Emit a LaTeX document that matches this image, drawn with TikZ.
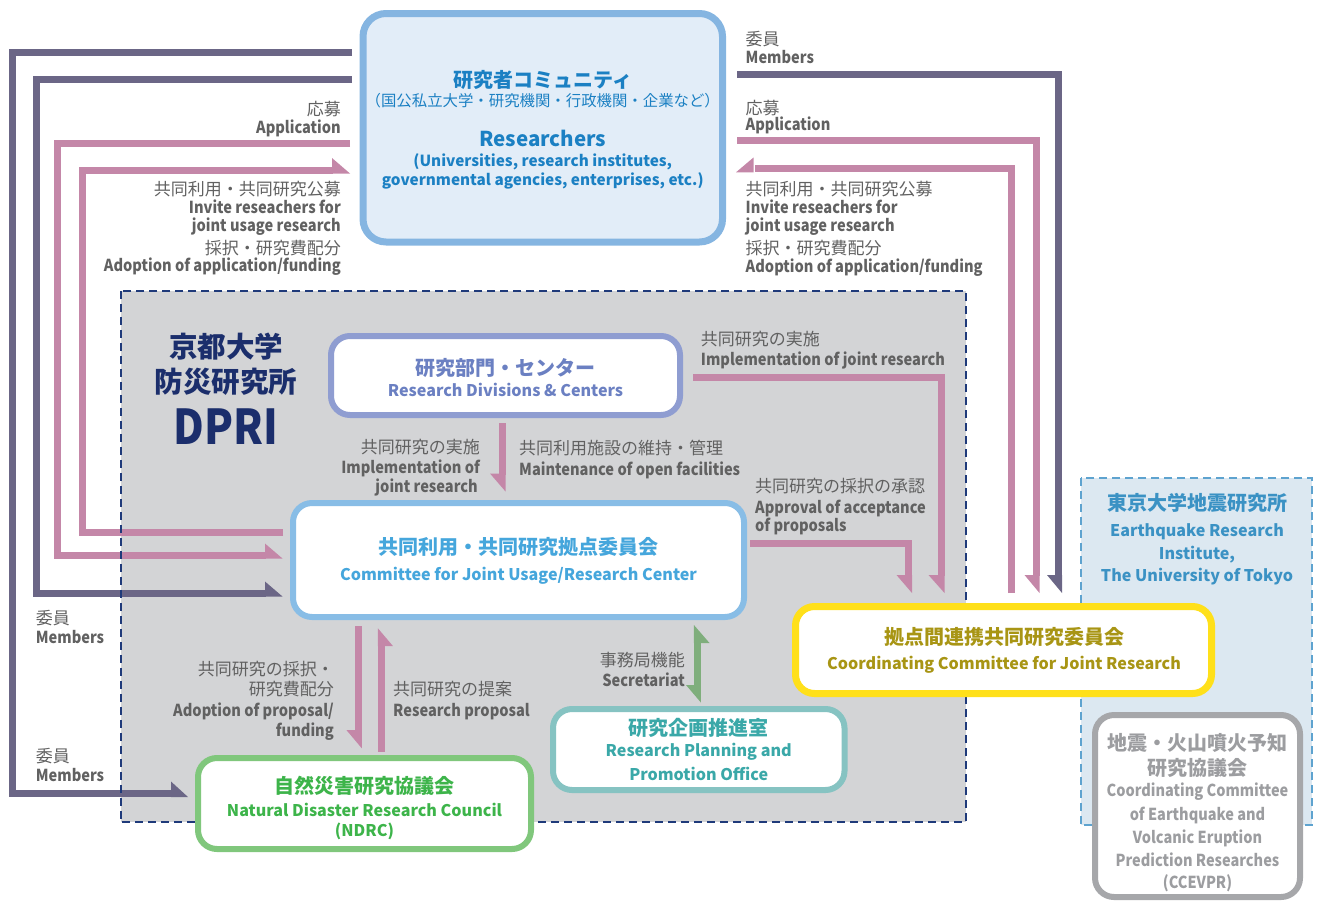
\documentclass[tikz,border=0pt]{standalone}
\usepackage{fontspec}
\setmainfont{Noto Sans CJK JP}
\newfontfamily\labfont{Noto Sans CJK JP}[FakeStretch=0.885]
\newfontfamily\condfont{Noto Sans CJK JP}[FakeStretch=0.88]
\definecolor{navy}{HTML}{1F3A7A}
\definecolor{dpri}{HTML}{1B2E6C}
\definecolor{purp}{HTML}{6B6686}
\definecolor{pinkc}{HTML}{C487A8}
\definecolor{greyreg}{HTML}{D3D4D6}
\definecolor{resb}{HTML}{85B5E1}
\definecolor{resf}{HTML}{E2EDF8}
\definecolor{rest}{HTML}{1B80C3}
\definecolor{divb}{HTML}{8F9DD1}
\definecolor{divt}{HTML}{6B80C2}
\definecolor{comb}{HTML}{88BDE6}
\definecolor{comt}{HTML}{45A6DC}
\definecolor{ndrb}{HTML}{80C77C}
\definecolor{ndrt}{HTML}{3DB44A}
\definecolor{rppb}{HTML}{86C3C2}
\definecolor{rppt}{HTML}{3AA8A8}
\definecolor{ccjb}{HTML}{FFE01A}
\definecolor{ccjt}{HTML}{A89514}
\definecolor{erif}{HTML}{DCE8F1}
\definecolor{erib}{HTML}{5EA3CF}
\definecolor{erit}{HTML}{3B92C4}
\definecolor{cceb}{HTML}{A6A7AA}
\definecolor{ccet}{HTML}{9C9DA0}
\definecolor{labt}{HTML}{616161}
\definecolor{secg}{HTML}{7FAE7C}
\begin{document}
\begin{tikzpicture}[x=1pt,y=-1pt,
  region/.style={rectangle, inner sep=0, draw=none},
  box/.style={rectangle, draw, fill=white, rounded corners=19pt, inner sep=0, line width=6pt},
  conn/.style={line width=7pt, line cap=butt, line join=miter},
  t/.style={inner sep=0, anchor=base},
  tl/.style={inner sep=0, anchor=base west},
  tr/.style={inner sep=0, anchor=base east},
  labE/.style={text=labt, font=\fontsize{16.5}{20}\selectfont\labfont\bfseries},
  labJ/.style={text=labt, font=\fontsize{17}{20}\selectfont},
  bJ/.style={font=\fontsize{20}{24}\selectfont\bfseries},
  bE/.style={font=\fontsize{16.1}{20}\selectfont\bfseries},
  cE/.style={font=\fontsize{16.5}{20}\selectfont\condfont\bfseries}]
\useasboundingbox (0,0) rectangle (1321,902);

% regions
\node[region, fill=greyreg, minimum width=845, minimum height=531] (dpriarea) at (543.5,556.5) {};
\node[region, fill=erif, minimum width=231, minimum height=347] (eriarea) at (1196.5,651.5) {};

% connector coordinates
\coordinate (p1a) at (352,52.5);  \coordinate (p1b) at (12.5,52.5);
\coordinate (p1c) at (12.5,793.5); \coordinate (p1d) at (172,793.5);
\coordinate (p2a) at (352,79.5);  \coordinate (p2b) at (36,79.5);
\coordinate (p2c) at (36,593);    \coordinate (p2d) at (266,593);
\coordinate (p3a) at (737,74);    \coordinate (p3b) at (1058.5,74);
\coordinate (p3c) at (1058.5,576);
\coordinate (k1a) at (350,143.5); \coordinate (k1b) at (57.5,143.5);
\coordinate (k1c) at (57.5,555);  \coordinate (k1d) at (266,555);
\coordinate (k2a) at (283,532);   \coordinate (k2b) at (82,532);
\coordinate (k2c) at (82,170);    \coordinate (k2d) at (333,170);
\coordinate (k3a) at (737,140.7); \coordinate (k3b) at (1036,140.7);
\coordinate (k3c) at (1036,576);
\coordinate (k4a) at (1011.7,593); \coordinate (k4b) at (1011.7,168.7);
\coordinate (k4c) at (754.5,168.7);
\coordinate (k5a) at (693,377.5); \coordinate (k5b) at (941,377.5);
\coordinate (k5c) at (941,576);
\coordinate (k6a) at (750,543.5); \coordinate (k6b) at (908.5,543.5);
\coordinate (k6c) at (908.5,576);
\coordinate (k7a) at (502,423);   \coordinate (k7b) at (502,474.5);
\coordinate (k8a) at (358.2,626); \coordinate (k8b) at (358.2,731);
\coordinate (k9a) at (381.4,751.7); \coordinate (k9b) at (381.4,645);
\coordinate (s1a) at (697.4,642); \coordinate (s1b) at (697.4,686);

% purple connectors
\draw[conn, purp] (p1a) -- (p1b) -- (p1c) -- (p1d);
\fill[purp] (171,781.5) -- (171,797) -- (188,797) -- cycle;
\draw[conn, purp] (p2a) -- (p2b) -- (p2c) -- (p2d);
\fill[purp] (265,581.5) -- (265,596.5) -- (282.5,596.5) -- cycle;
\draw[conn, purp] (p3a) -- (p3b) -- (p3c);
\fill[purp] (1047,575) -- (1062,575) -- (1062,593) -- cycle;

% pink connectors
\draw[conn, pinkc] (k1a) -- (k1b) -- (k1c) -- (k1d);
\fill[pinkc] (265,543.5) -- (265,558.5) -- (282.5,558.5) -- cycle;
\draw[conn, pinkc] (k2a) -- (k2b) -- (k2c) -- (k2d);
\fill[pinkc] (332,158) -- (332,173.5) -- (350,173.5) -- cycle;
\draw[conn, pinkc] (k3a) -- (k3b) -- (k3c);
\fill[pinkc] (1024.5,575) -- (1039.5,575) -- (1039.5,593) -- cycle;
\draw[conn, pinkc] (k4a) -- (k4b) -- (k4c);
\fill[pinkc] (753.5,157.5) -- (753.5,172.3) -- (736,172.3) -- cycle;
\draw[conn, pinkc] (k5a) -- (k5b) -- (k5c);
\fill[pinkc] (928.5,575) -- (944.5,575) -- (944.5,593) -- cycle;
\draw[conn, pinkc] (k6a) -- (k6b) -- (k6c);
\fill[pinkc] (896.5,575) -- (912,575) -- (912,593) -- cycle;
\draw[conn, pinkc] (k7a) -- (k7b);
\fill[pinkc] (490,473.5) -- (505.7,473.5) -- (505.7,491.7) -- cycle;
\draw[conn, pinkc] (k8a) -- (k8b);
\fill[pinkc] (346.4,730) -- (361.8,730) -- (361.8,748.3) -- cycle;
\draw[conn, pinkc] (k9a) -- (k9b);
\fill[pinkc] (377.9,646) -- (392.9,646) -- (377.9,628.3) -- cycle;

% secretariat (green, both ends)
\draw[conn, secg] (s1a) -- (s1b);
\fill[secg] (693.9,643) -- (709.5,643) -- (693.9,625) -- cycle;
\fill[secg] (686,685) -- (700.9,685) -- (700.9,702.5) -- cycle;

% dashed borders
\draw[navy, line width=2pt, dash pattern=on 8pt off 5pt] (dpriarea.north west) rectangle (dpriarea.south east);
\draw[erib, line width=1.6pt, dash pattern=on 8pt off 5pt] (eriarea.north west) rectangle (eriarea.south east);

% boxes
\node[box, draw=resb, fill=resf, line width=7pt, rounded corners=23pt, minimum width=359.5, minimum height=228.5] (res) at (542.75,127.75) {};
\node[box, draw=divb, minimum width=349, minimum height=79] (div) at (505.5,375.5) {};
\node[box, draw=comb, minimum width=451, minimum height=114] (com) at (518.5,560) {};
\node[box, draw=ndrb, minimum width=333, minimum height=91] (ndrc) at (364.5,803.5) {};
\node[box, draw=rppb, minimum width=291.5, minimum height=81] (rpp) at (698.75,749.5) {};
\node[box, draw=ccjb, line width=7pt, minimum width=416, minimum height=87] (ccj) at (1003.5,650) {};
\node[box, draw=cceb, minimum width=205, minimum height=182] (cce) at (1197.5,806) {};

% researchers text
\node[t, bJ, text=rest] (rest1) at (542.75,87) {研究者コミュニティ};
\node[t, text=rest, font=\fontsize{15.4}{18}\selectfont] (rest2) at (542.75,106) {（国公私立大学・研究機関・行政機関・企業など）};
\node[t, text=rest, font=\fontsize{20.5}{24}\selectfont\bfseries] (rest3) at (542.75,146) {Researchers};
\node[t, text=rest, font=\fontsize{15.3}{18}\selectfont\bfseries] (rest4) at (542.75,166.5) {(Universities, research institutes,};
\node[t, text=rest, font=\fontsize{15.3}{18}\selectfont\bfseries] (rest5) at (542.75,185.7) {governmental agencies, enterprises, etc.)};

% DPRI title
\node[t, text=dpri, font=\fontsize{28.5}{32}\selectfont\bfseries] (dp1) at (226,357) {京都大学};
\node[t, text=dpri, font=\fontsize{28.5}{32}\selectfont\bfseries] (dp2) at (226,392) {防災研究所};
\node[t, text=dpri, font=\fontsize{48}{52}\selectfont\condfont\bfseries] (dp3) at (226,444) {DPRI};

% box texts
\node[t, bJ, text=divt] (divt1) at (505.5,375) {研究部門・センター};
\node[t, bE, text=divt] (divt2) at (505.5,396) {Research Divisions \& Centers};
\node[t, bJ, text=comt] (comt1) at (518.5,554) {共同利用・共同研究拠点委員会};
\node[t, bE, text=comt] (comt2) at (518.5,580) {Committee for Joint Usage/Research Center};
\node[t, bJ, text=ndrt] (ndt1) at (364.5,793) {自然災害研究協議会};
\node[t, bE, text=ndrt] (ndt2) at (364.5,816) {Natural Disaster Research Council};
\node[t, bE, text=ndrt] (ndt3) at (364.5,836.5) {(NDRC)};
\node[t, bJ, text=rppt] (rpt1) at (698.7,735) {研究企画推進室};
\node[t, bE, text=rppt] (rpt2) at (698.7,756.5) {Research Planning and};
\node[t, bE, text=rppt] (rpt3) at (698.7,780) {Promotion Office};
\node[t, bJ, text=ccjt] (cjt1) at (1004,644) {拠点間連携共同研究委員会};
\node[t, bE, text=ccjt] (cjt2) at (1004,669) {Coordinating Committee for Joint Research};
\node[t, bJ, text=erit] (ert1) at (1197,510) {東京大学地震研究所};
\node[t, bE, text=erit] (ert2) at (1197,536.5) {Earthquake Research};
\node[t, bE, text=erit] (ert3) at (1197,559) {Institute,};
\node[t, bE, text=erit] (ert4) at (1197,581.5) {The University of Tokyo};
\node[t, bJ, text=ccet] (cct1) at (1197.5,750) {地震・火山噴火予知};
\node[t, bJ, text=ccet] (cct2) at (1197.5,775) {研究協議会};
\node[t, cE, text=ccet] (cct3) at (1197.5,796.5) {Coordinating Committee};
\node[t, cE, text=ccet] (cct4) at (1197.5,820) {of Earthquake and};
\node[t, cE, text=ccet] (cct5) at (1197.5,843) {Volcanic Eruption};
\node[t, cE, text=ccet] (cct6) at (1197.5,866) {Prediction Researches};
\node[t, cE, text=ccet] (cct7) at (1197.5,888) {(CCEVPR)};

% left labels
\node[tr, labJ] (la1) at (341,115.5) {応募};
\node[tr, labE] (la2) at (341,133.3) {Application};
\node[tr, labJ] (la3) at (341,195.5) {共同利用・共同研究公募};
\node[tr, labE] (la4) at (341,213.3) {Invite reseachers for};
\node[tr, labE] (la5) at (341,231.7) {joint usage research};
\node[tr, labJ] (la6) at (341,254.5) {採択・研究費配分};
\node[tr, labE] (la7) at (341,271.7) {Adoption of application/funding};

% right labels
\node[tl, labJ] (ra1) at (745.5,45.5) {委員};
\node[tl, labE] (ra2) at (745.5,63.3) {Members};
\node[tl, labJ] (ra3) at (745.5,114) {応募};
\node[tl, labE] (ra4) at (745.5,130) {Application};
\node[tl, labJ] (ra5) at (745.5,195.5) {共同利用・共同研究公募};
\node[tl, labE] (ra6) at (745.5,213.3) {Invite reseachers for};
\node[tl, labE] (ra7) at (745.5,231.7) {joint usage research};
\node[tl, labJ] (ra8) at (745.5,254) {採択・研究費配分};
\node[tl, labE] (ra9) at (745.5,272) {Adoption of application/funding};

% left members
\node[tl, labJ] (ma1) at (35.7,624) {委員};
\node[tl, labE] (ma2) at (35.7,643) {Members};
\node[tl, labJ] (mb1) at (35.7,762) {委員};
\node[tl, labE] (mb2) at (35.7,781.7) {Members};

% inside labels
\node[tr, labJ] (ia1) at (480,453) {共同研究の実施};
\node[tr, labE] (ia2) at (480,473) {Implementation of};
\node[tr, labE] (ia3) at (478,492) {joint research};
\node[tl, labJ] (ib1) at (519,454.5) {共同利用施設の維持・管理};
\node[tl, labE] (ib2) at (519,475) {Maintenance of open facilities};
\node[tl, labJ] (ic1) at (700.7,345) {共同研究の実施};
\node[tl, labE] (ic2) at (700.7,365) {Implementation of joint research};
\node[tl, labJ] (id1) at (755,492) {共同研究の採択の承認};
\node[tl, labE] (id2) at (755,513) {Approval of acceptance};
\node[tl, labE] (id3) at (755,531.5) {of proposals};
\node[tr, labJ] (ie1) at (685,666) {事務局機能};
\node[tr, labE] (ie2) at (685,686.7) {Secretariat};
\node[tr, labJ] (if1) at (334,675) {共同研究の採択・};
\node[tr, labJ] (if2) at (334,695) {研究費配分};
\node[tr, labE] (if3) at (334,716.5) {Adoption of proposal/};
\node[tr, labE] (if4) at (334,736) {funding};
\node[tl, labJ] (ig1) at (393,695) {共同研究の提案};
\node[tl, labE] (ig2) at (393,716.5) {Research proposal};
\end{tikzpicture}
\end{document}
